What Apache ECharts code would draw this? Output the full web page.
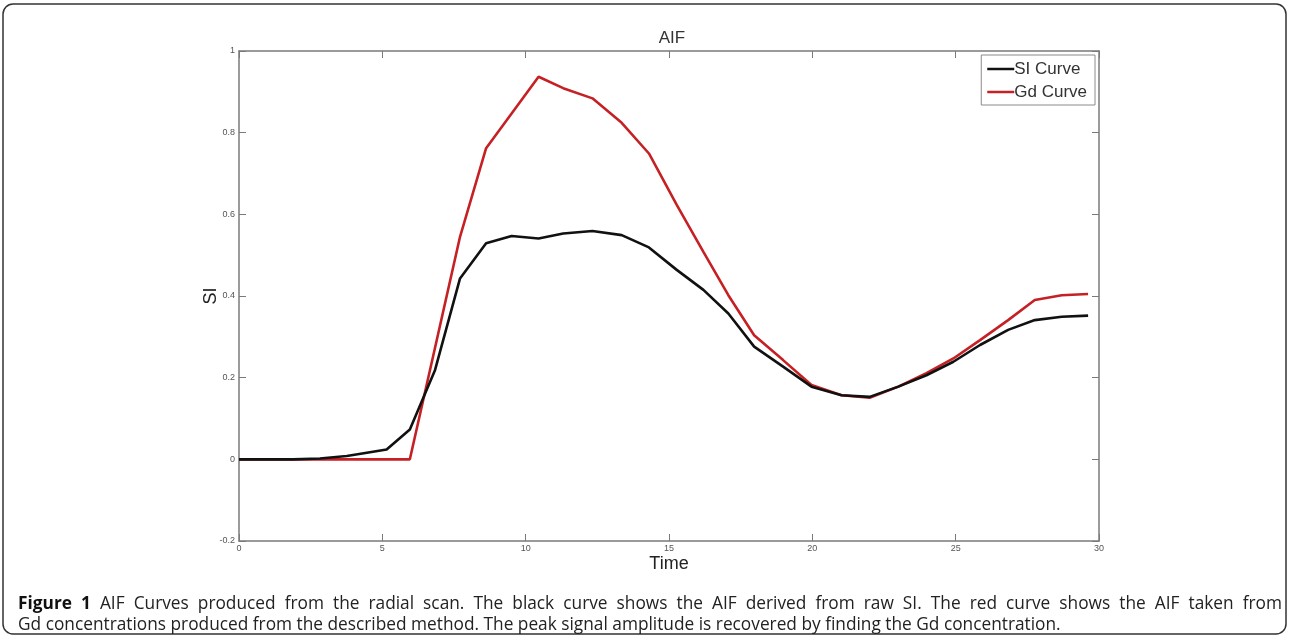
<!DOCTYPE html>
<html><head><meta charset="utf-8">
<script src="https://cdn.jsdelivr.net/npm/echarts@6/dist/echarts.min.js"></script>
<style>html,body{margin:0;padding:0;background:#fff}#c{width:1290px;height:637px}</style>
</head><body><div id="c"></div>
<script>
const times = [0, 0.94, 1.88, 2.82, 3.76, 4.46, 5.15, 5.96, 6.84, 7.71, 8.62, 9.51, 10.45, 11.31, 12.33, 13.35, 14.3, 15.27, 16.2, 17.07, 17.97, 18.98, 19.97, 21.02, 22.0, 23.0, 23.98, 24.92, 25.85, 26.83, 27.76, 28.7, 29.62];
const siCurve = [0, 0, 0, 0.002, 0.008, 0.016, 0.024, 0.073, 0.219, 0.443, 0.529, 0.547, 0.541, 0.553, 0.559, 0.549, 0.519, 0.464, 0.415, 0.357, 0.276, 0.227, 0.178, 0.157, 0.153, 0.178, 0.206, 0.239, 0.28, 0.317, 0.341, 0.349, 0.352];
const gdCurve = [0, 0, 0, 0, 0, 0, 0, 0, 0.274, 0.545, 0.762, 0.847, 0.937, 0.909, 0.884, 0.824, 0.749, 0.623, 0.508, 0.402, 0.304, 0.243, 0.182, 0.157, 0.151, 0.178, 0.211, 0.247, 0.292, 0.341, 0.39, 0.402, 0.405];
const seriesNames = ['SI Curve', 'Gd Curve'];
const yTickLabels = ['-0.2', '0', '0.2', '0.4', '0.6', '0.8', '1'];
const chartTitle = 'AIF';
const xName = 'Time';
const yName = 'SI';
const captionBold = 'Figure 1';
const captionLine1 = 'AIF Curves produced from the radial scan. The black curve shows the AIF derived from raw SI. The red curve shows the AIF taken from';
const captionLine2 = 'Gd concentrations produced from the described method. The peak signal amplitude is recovered by finding the Gd concentration.';

const axisColor = '#7a7a7a';
const capSize = 17.3;
const capFont = 'Open Sans';
const chart = echarts.init(document.getElementById('c'));
const pair = a => times.map((t, i) => [t, a[i]]);
const yFmt = v => { const k = Math.round((v + 0.2) / 0.2); return yTickLabels[k] !== undefined ? yTickLabels[k] : ''; };

// justified first caption line: measure words, spread them across the line width
const cv = document.createElement('canvas').getContext('2d');
const words = [];
captionBold.split(' ').forEach(w => words.push({ w, bold: true }));
captionLine1.split(' ').forEach(w => words.push({ w, bold: false }));
const lineLeft = 18, lineRight = 1282;
let total = 0;
words.forEach(o => { cv.font = (o.bold ? 'bold ' : '') + capSize + 'px "' + capFont + '"'; o.width = cv.measureText(o.w).width; total += o.width; });
const gap = (lineRight - lineLeft - total) / (words.length - 1);
let cx = lineLeft;
const capGraphics = words.map(o => {
  const g = { type: 'text', x: cx, y: 596, style: { text: o.w, fontFamily: capFont, fontSize: capSize,
    fontWeight: o.bold ? 'bold' : 'normal', fill: o.bold ? '#111' : '#222' } };
  cx += o.width + gap;
  return g;
});
capGraphics.push({ type: 'text', x: lineLeft, y: 617, style: { text: captionLine2, fontFamily: capFont, fontSize: capSize, fill: '#222' } });

const axisCommon = {
  axisLine: { onZero: false, lineStyle: { color: axisColor, width: 1.5 } },
  axisTick: { inside: true, length: 7, lineStyle: { color: axisColor } },
  splitLine: { show: false }
};

chart.setOption({
  animation: false,
  title: { text: chartTitle, left: 667, top: 25, textAlign: 'center',
    textStyle: { fontFamily: 'Liberation Sans', fontSize: 17, fontWeight: 'normal', color: '#333' } },
  grid: { left: 239, right: 191, top: 51, bottom: 96 },
  legend: {
    right: 195, top: 55, orient: 'vertical', itemWidth: 27, itemHeight: 2.5, itemGap: 3, icon: 'rect',
    borderColor: '#8a8a8a', borderWidth: 1, padding: [4, 8, 3, 6], backgroundColor: '#fff', borderRadius: 0,
    textStyle: { fontFamily: 'Liberation Sans', fontSize: 17, color: '#333', padding: [0, 0, 0, -5], lineHeight: 20 },
    data: seriesNames
  },
  xAxis: [Object.assign({}, axisCommon, {
    type: 'value', min: 0, max: 30, interval: 5, position: 'bottom',
    name: xName, nameLocation: 'middle', nameGap: 14, nameMoveOverlap: false,
    nameTextStyle: { fontFamily: 'Liberation Sans', fontSize: 18, color: '#222' },
    axisLabel: { fontSize: 9, color: '#555', margin: 3, fontFamily: 'Liberation Sans' }
  }), Object.assign({}, axisCommon, {
    type: 'value', min: 0, max: 30, interval: 5, position: 'top', axisLabel: { show: false }
  })],
  yAxis: [Object.assign({}, axisCommon, {
    type: 'value', min: -0.2, max: 1, interval: 0.2, position: 'left',
    name: yName, nameLocation: 'middle', nameGap: 19, nameRotate: 90, nameMoveOverlap: false,
    nameTextStyle: { fontFamily: 'Liberation Sans', fontSize: 18, color: '#222' },
    axisLabel: { fontSize: 9, color: '#555', margin: 4, formatter: yFmt, fontFamily: 'Liberation Sans' }
  }), Object.assign({}, axisCommon, {
    type: 'value', min: -0.2, max: 1, interval: 0.2, position: 'right', axisLabel: { show: false }
  })],
  series: [
    { name: seriesNames[0], type: 'line', symbol: 'none', data: pair(siCurve), z: 3,
      lineStyle: { color: '#111', width: 2.6 }, itemStyle: { color: '#111' } },
    { name: seriesNames[1], type: 'line', symbol: 'none', data: pair(gdCurve), z: 2,
      lineStyle: { color: '#c52125', width: 2.6 }, itemStyle: { color: '#c52125' } },
    { type: 'line', xAxisIndex: 1, yAxisIndex: 1, data: [], silent: true }
  ],
  graphic: [
    { type: 'rect', shape: { x: 3, y: 4, width: 1283, height: 630, r: 10 },
      style: { fill: 'none', stroke: '#333', lineWidth: 1.5 }, z: -1 }
  ].concat(capGraphics)
});
</script></body></html>
